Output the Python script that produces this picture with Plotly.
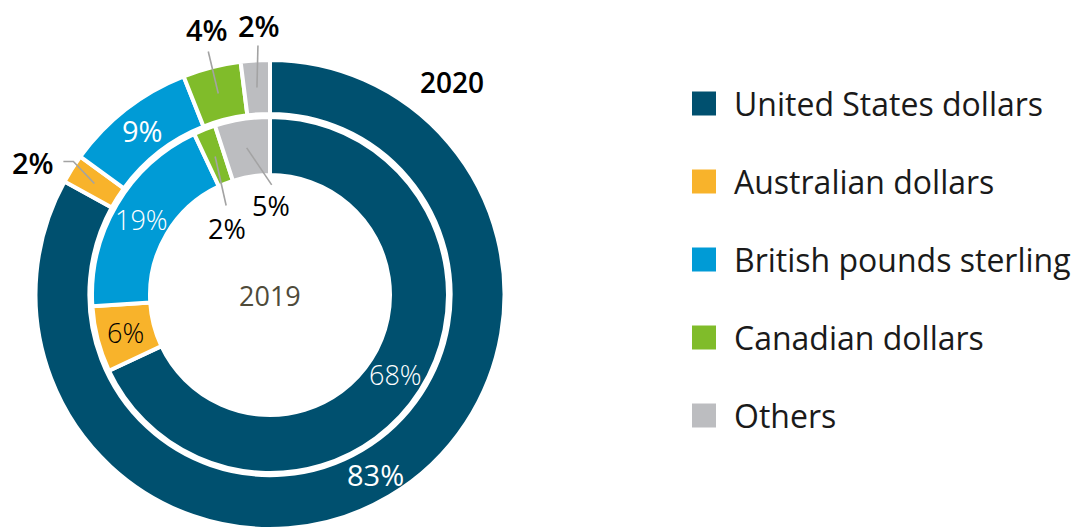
import math
import plotly.graph_objects as go

# ---------------- data ----------------
categories = ["United States dollars", "Australian dollars", "British pounds sterling",
              "Canadian dollars", "Others"]
values_2020 = [83, 2, 9, 4, 2]
values_2019 = [68, 6, 19, 2, 5]
ring_titles = ["2020", "2019"]

# ---------------- styles ----------------
colors = ["#00506F", "#F8B32B", "#009BD6", "#80BC2A", "#BCBDC0"]
FONT = "Open Sans"
W, H = 1080, 529
CX, CY = 270, 295            # pie centre in pixels (from top-left)
R_OUT, HOLE_OUT = 235, 181   # outer ring radii (px)
R_IN, HOLE_IN = 178, 120     # inner ring radii (px)
INSIDE_MIN = 6               # slices >= this get their label inside


def px(x):
    return x / W


def py(y):
    return 1 - y / H


def clamp(v):
    return min(1.0, max(0.0, v))


def domain(r):
    return dict(x=[clamp(px(CX - r)), clamp(px(CX + r))],
                y=[clamp(py(CY + r)), clamp(py(CY - r))])


fig = go.Figure()

for vals, r, hole in [(values_2020, R_OUT, HOLE_OUT), (values_2019, R_IN, HOLE_IN)]:
    fig.add_trace(go.Pie(
        labels=categories, values=vals, sort=False, direction="clockwise", rotation=0,
        hole=hole / r, domain=domain(r),
        marker=dict(colors=colors, line=dict(color="white", width=4)),
        textinfo="none", showlegend=False, hoverinfo="label+value",
    ))

shapes = []
annotations = []


def anchor(vals, idx, r_mid):
    total = sum(vals)
    start = sum(vals[:idx]) / total
    mid = (start + vals[idx] / total / 2) * 2 * math.pi
    return CX + r_mid * math.sin(mid), CY - r_mid * math.cos(mid)


# inside labels
inside_fonts = [
    (values_2020, (R_OUT + HOLE_OUT) / 2,
     dict(family=FONT, size=29, weight=400), ["white", "black", "white", "black", "black"]),
    (values_2019, (R_IN + HOLE_IN) / 2,
     dict(family=FONT, size=27, weight=300), ["white", "black", "white", "black", "black"]),
]
for vals, rm, fnt, cols in inside_fonts:
    for i, v in enumerate(vals):
        if v >= INSIDE_MIN:
            x, y = anchor(vals, i, rm)
            annotations.append(dict(x=px(x), y=py(y), xref="paper", yref="paper",
                                    text=f"{v}%", showarrow=False,
                                    xanchor="center", yanchor="middle",
                                    font=dict(color=cols[i], **fnt)))

LEADER = dict(color="#A3A3A3", width=1.6)

# outside labels: (values, index, ring mid radius, leader offsets, text offset, anchor, bold)
outside = [
    (values_2020, 1, (R_OUT + HOLE_OUT) / 2, [(-21, -22), (-31, -22)], (-38, -21), "right", True),
    (values_2020, 3, (R_OUT + HOLE_OUT) / 2, [(-10, -42)], (-11, -64), "center", True),
    (values_2020, 4, (R_OUT + HOLE_OUT) / 2, [(1, -42)], (2, -62), "center", True),
    (values_2019, 3, (R_IN + HOLE_IN) / 2, [(11, 49)], (12, 72), "center", False),
    (values_2019, 4, (R_IN + HOLE_IN) / 2, [(25, 37)], (24, 58), "center", False),
]
for vals, idx, rm, pts, toff, xa, bold in outside:
    ax0, ay0 = anchor(vals, idx, rm)
    path = f"M {px(ax0)},{py(ay0)}"
    for dx, dy in pts:
        path += f" L {px(ax0 + dx)},{py(ay0 + dy)}"
    shapes.append(dict(type="path", path=path, xref="paper", yref="paper", line=LEADER))
    annotations.append(dict(
        x=px(ax0 + toff[0]), y=py(ay0 + toff[1]), xref="paper", yref="paper",
        text=f"{vals[idx]}%", showarrow=False, xanchor=xa, yanchor="middle",
        font=dict(family=FONT, size=29 if bold else 27, color="black",
                  weight=600 if bold else 400),
    ))

# ring titles
annotations.append(dict(x=px(CX + 182), y=py(CY - 213), xref="paper", yref="paper",
                        text=ring_titles[0], showarrow=False, xanchor="center", yanchor="middle",
                        font=dict(family=FONT, size=28, color="black", weight=600)))
annotations.append(dict(x=px(CX), y=py(CY), xref="paper", yref="paper",
                        text=ring_titles[1], showarrow=False, xanchor="center", yanchor="middle",
                        font=dict(family=FONT, size=27, color="#4F4B3A")))

# legend (manual, to match the large square swatches)
LEG_X, LEG_Y0, LEG_DY, SW = 692, 103.5, 78, 24
for i, (cat, col) in enumerate(zip(categories, colors)):
    yc = LEG_Y0 + i * LEG_DY
    shapes.append(dict(type="rect", xref="paper", yref="paper",
                       x0=px(LEG_X), x1=px(LEG_X + SW), y0=py(yc + SW / 2), y1=py(yc - SW / 2),
                       fillcolor=col, line=dict(width=0)))
    annotations.append(dict(x=px(LEG_X + 40), y=py(yc), xref="paper", yref="paper",
                            text=cat, showarrow=False, xanchor="left", yanchor="middle",
                            font=dict(family=FONT, size=32, color="#1A1A1A")))

fig.update_layout(
    width=W, height=H, margin=dict(l=0, r=0, t=0, b=0),
    paper_bgcolor="white", plot_bgcolor="white",
    shapes=shapes, annotations=annotations, showlegend=False,
)

fig.write_html("out.html", config={"displayModeBar": False},
               post_script="document.body.style.margin='0';")
